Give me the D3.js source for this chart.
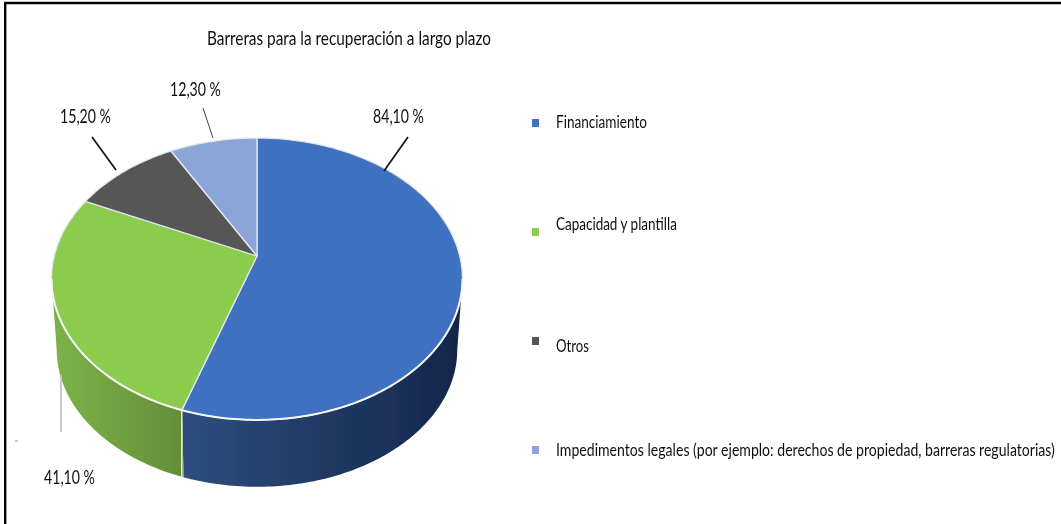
<!DOCTYPE html>
<html>
<head>
<meta charset="utf-8">
<script src="https://cdn.jsdelivr.net/npm/d3@7"></script>
<style>
  body { margin: 0; background: #fff; }
  text { font-family: Lato, "Open Sans", sans-serif; fill: #111; }
</style>
</head>
<body>
<svg id="viz"></svg>
<script>
var categories = ["Financiamiento", "Capacidad y plantilla", "Otros", "Impedimentos legales (por ejemplo: derechos de propiedad, barreras regulatorias)"];
var values = [84.1, 41.1, 15.2, 12.3];
var valueLabels = ["84,10 %", "41,10 %", "15,20 %", "12,30 %"];
var colors = ["#4170c0", "#8ccc4e", "#575757", "#8ca5d8"];
var title = "Barreras para la recuperación a largo plazo";

var width = 1061;
var height = 524;

var svg = d3.select("#viz").attr("width", width).attr("height", height).style("display", "block");

var defs = svg.append("defs");
defs.append("filter").attr("id", "soft")
  .append("feGaussianBlur").attr("stdDeviation", 0.5);
defs.append("filter").attr("id", "softText")
  .append("feGaussianBlur").attr("stdDeviation", 0.3);

function sideGrad(id, x1, x2, c1, c2) {
  var g = defs.append("linearGradient").attr("id", id)
    .attr("gradientUnits", "userSpaceOnUse")
    .attr("x1", x1).attr("x2", x2).attr("y1", 0).attr("y2", 0);
  g.append("stop").attr("offset", 0).attr("stop-color", c1);
  g.append("stop").attr("offset", 1).attr("stop-color", c2);
}
sideGrad("sideBlue", 181, 460, "#2e4d80", "#14274a");
sideGrad("sideGreen", 52, 181, "#7db348", "#648f38");

// tilted pie: circle pushed through a simple perspective
var cx = 257, cy = 256, rx = 202.7, ry = 137.2, persp = 0.163;

function project(angle, scale, dy) {
  var u = Math.sin(angle), v = -Math.cos(angle), w = 1 - persp * v;
  return [cx + scale * rx * u / w, cy + dy + scale * ry * v / w];
}

var line = d3.line();
var pie = d3.pie().sort(null)(values);

function rim(a0, a1, scale, dy) {
  var n = Math.max(2, Math.ceil(Math.abs(a1 - a0) * 60));
  return d3.range(n + 1).map(function (i) {
    return project(a0 + (a1 - a0) * i / n, scale, dy);
  });
}

// the reference font is condensed, so squeeze each text to its measured width
function squeeze(sel, x, y, w) {
  sel.attr("transform", function (d, i) {
    var sx = w(d, i) / this.getComputedTextLength();
    return "translate(" + x(d, i) + "," + y(d, i) + ") scale(" + sx + ",1)";
  });
}

var chart = svg.append("g").attr("filter", "url(#soft)");

// side wall, only the two slices that face the viewer
var tangent = Math.acos(-persp);
var lowScale = 0.975, lowDy = 71;
var sideData = [
  { a0: tangent, a1: pie[0].endAngle, fill: "url(#sideBlue)" },
  { a0: pie[1].startAngle, a1: 2 * Math.PI - tangent, fill: "url(#sideGreen)" }
];

chart.append("g").selectAll("path")
  .data(sideData)
  .join("path")
  .attr("d", function (d) {
    return line(rim(d.a0, d.a1, 1, 0).concat(rim(d.a1, d.a0, lowScale, lowDy))) + "Z";
  })
  .attr("fill", function (d) { return d.fill; })
  .attr("stroke", "none");

chart.append("line")
  .datum(pie[0].endAngle)
  .attr("x1", function (a) { return project(a, 1, 0)[0]; })
  .attr("y1", function (a) { return project(a, 1, 0)[1]; })
  .attr("x2", function (a) { return project(a, 1, 0)[0]; })
  .attr("y2", function (a) { return project(a, lowScale, lowDy)[1]; })
  .attr("stroke", "#f2f4ec").attr("stroke-width", 1.4);

// top face
chart.append("g").selectAll("path")
  .data(pie)
  .join("path")
  .attr("d", function (d) {
    return line([[cx, cy]].concat(rim(d.startAngle, d.endAngle, 1, 0))) + "Z";
  })
  .attr("fill", function (d, i) { return colors[i]; })
  .attr("stroke", "#dfe6ee")
  .attr("stroke-width", 1.3)
  .attr("stroke-linejoin", "round");

// brighter edge where the top meets the wall
chart.append("path")
  .attr("d", line(rim(tangent, 2 * Math.PI - tangent, 1, 0)))
  .attr("fill", "none")
  .attr("stroke", "#f4f6f4")
  .attr("stroke-width", 2);

// leader lines
var leaders = [
  { p: [[408, 137], [384, 171]], c: "#111", w: 1.7 },
  { p: [[61, 375], [61, 432]], c: "#c4c4c4", w: 1.8 },
  { p: [[92, 137], [116, 170]], c: "#111", w: 1.7 },
  { p: [[203, 108], [213, 138]], c: "#444", w: 1 },
  { p: [[15, 441], [18, 441]], c: "#999", w: 1 }
];
svg.append("g").selectAll("path")
  .data(leaders)
  .join("path")
  .attr("d", function (d) { return line(d.p); })
  .attr("stroke", function (d) { return d.c; })
  .attr("stroke-width", function (d) { return d.w; })
  .attr("fill", "none");

var texts = svg.append("g").attr("filter", "url(#softText)");

texts.append("text")
  .datum(title)
  .attr("font-size", 19.5)
  .text(title)
  .call(squeeze, () => 207, () => 45, () => 284);

var labelPos = [[373, 123], [44, 484], [60, 123], [170, 96]];
texts.append("g").selectAll("text")
  .data(valueLabels)
  .join("text")
  .attr("font-size", 19.5)
  .text(function (d) { return d; })
  .call(squeeze, (d, i) => labelPos[i][0], (d, i) => labelPos[i][1], () => 51);

// legend
var markY = [123, 232, 341, 450];
var textY = [128, 230, 352, 456];
var textW = [91, 121, 33, 499];
var legend = svg.append("g");
legend.selectAll("rect")
  .data(categories)
  .join("rect")
  .attr("x", 532).attr("width", 7).attr("height", 8)
  .attr("y", function (d, i) { return markY[i] - 4; })
  .attr("fill", function (d, i) { return colors[i]; })
  .attr("filter", "url(#softText)");
texts.append("g").selectAll("text")
  .data(categories)
  .join("text")
  .attr("font-size", 17)
  .text(function (d) { return d; })
  .call(squeeze, () => 556, (d, i) => textY[i], (d, i) => textW[i]);

// frame
svg.append("path").attr("d", "M5.2,524V3H1061").attr("fill", "none").attr("stroke", "#000").attr("stroke-width", 2.4);
</script>
</body>
</html>
